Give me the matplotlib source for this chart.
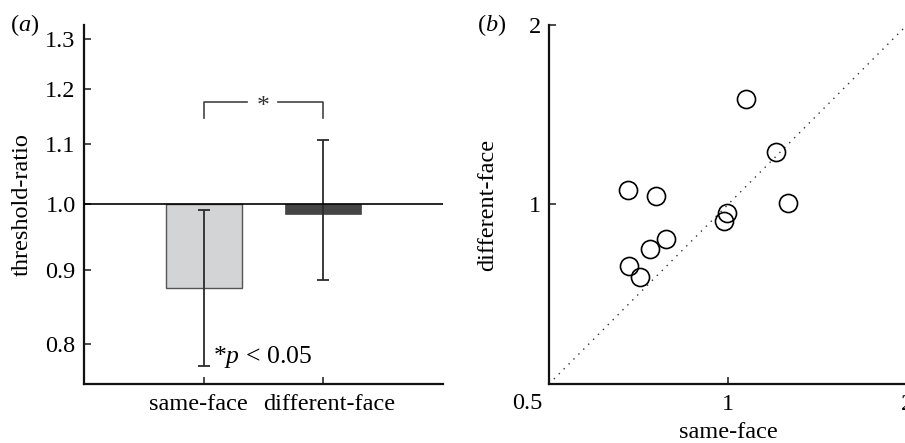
import matplotlib
matplotlib.use('Agg')
import matplotlib.pyplot as plt
from matplotlib.ticker import FixedLocator, NullLocator
from matplotlib.transforms import ScaledTranslation

plt.rcParams['font.family'] = ['Liberation Serif', 'DejaVu Serif']
plt.rcParams['mathtext.fontset'] = 'custom'
plt.rcParams['mathtext.rm'] = 'Liberation Serif'
plt.rcParams['mathtext.it'] = 'Liberation Serif:italic'

# panel (a): threshold ratios
conditions = ['same-face', 'different-face']
ratio_mean = [0.875, 0.984]
ratio_low = [0.773, 0.886]
ratio_high = [0.990, 1.107]
yticks_a = [0.8, 0.9, 1.0, 1.1, 1.2, 1.3]

# panel (b): individual observers
same_face = [1.073, 1.206, 0.678, 0.758, 1.263, 0.996, 0.983, 0.788, 0.738, 0.681, 0.712]
diff_face = [1.505, 1.225, 1.058, 1.035, 1.005, 0.968, 0.940, 0.875, 0.842, 0.790, 0.755]
ticks_b = [0.5, 1, 2]

fs = 17.5
line_col = '#2b2b2b'

fig = plt.figure(figsize=(9.05, 4.43), dpi=100)
ax = fig.add_axes([0.0928, 0.1332, 0.3967, 0.8104])
ax2 = fig.add_axes([0.6066, 0.1332, 0.3956, 0.8104])

# ---- (a)
xpos = [1, 2]
ax.bar(xpos[0], ratio_mean[0] - 1, bottom=1, width=0.635, color='#d3d4d6',
       edgecolor='#555555', linewidth=1.0, zorder=2)
ax.bar(xpos[1], ratio_mean[1] - 1, bottom=1, width=0.635, color='#444444',
       edgecolor='#444444', linewidth=0.5, zorder=2)
for x, m, lo, hi in zip(xpos, ratio_mean, ratio_low, ratio_high):
    ax.errorbar(x, m, yerr=[[m - lo], [hi - m]], fmt='none', ecolor=line_col,
                elinewidth=1.3, capsize=4, capthick=1.3, zorder=3)
ax.axhline(1.0, color='black', lw=1.2, zorder=4)

ax.set_yscale('log')
ax.set_ylim(0.7507, 1.329)
ax.set_xlim(0, 3.0)
ax.yaxis.set_major_locator(FixedLocator(yticks_a))
ax.yaxis.set_minor_locator(NullLocator())
ax.set_yticklabels(['%.1f' % v for v in yticks_a])
ax.set_xticks(xpos)
ax.set_xticklabels(conditions)
ax.tick_params(direction='in', length=5, width=1.2, labelsize=fs, color=line_col)
ax.tick_params(axis='x', pad=7)
ax.tick_params(axis='y', pad=6)
for lab, dx in zip(ax.get_xticklabels(), [-5, 6]):
    lab.set_transform(lab.get_transform() + ScaledTranslation(dx / 100, 0, fig.dpi_scale_trans))
ax.set_ylabel('threshold-ratio', fontsize=fs, labelpad=9)
for s in ['top', 'right']:
    ax.spines[s].set_visible(False)
for s in ['left', 'bottom']:
    ax.spines[s].set_linewidth(1.6)
    ax.spines[s].set_color('#111111')

# significance bracket
yb, yd = 1.176, 1.147
ax.plot([1, 1, 1.36], [yd, yb, yb], color='#444444', lw=1.2)
ax.plot([1.62, 2, 2], [yb, yb, yd], color='#444444', lw=1.2)
ax.text(1.5, 1.166, '*', ha='center', va='center', fontsize=fs + 1, color='#333333')
ax.text(1.075, 0.784, r'*$\mathit{p}$ < 0.05', ha='left', va='center', fontsize=fs + 1)

fig.text(0.011, 0.944, r'($\mathit{a}$)', fontsize=fs, ha='left', va='center')

# ---- (b)
ax2.plot([0.5, 2], [0.5, 2], color='#333333', lw=1.0, dashes=(1, 4), zorder=1)
ax2.plot(same_face, diff_face, 'o', ms=13, mfc='none', mec='black', mew=1.2, zorder=3)
ax2.set_xscale('log')
ax2.set_yscale('log')
ax2.set_xlim(0.5, 2)
ax2.set_ylim(0.5, 2)
for a in (ax2.xaxis, ax2.yaxis):
    a.set_major_locator(FixedLocator(ticks_b))
    a.set_minor_locator(NullLocator())
ax2.set_xticklabels(['', '1', '2'])
ax2.set_yticklabels(['', '1', '2'])
ax2.tick_params(direction='in', length=5, width=1.2, labelsize=fs, color=line_col)
ax2.tick_params(axis='x', pad=7)
ax2.tick_params(axis='y', pad=6)
ax2.annotate('0.5', xy=(0, 0), xycoords='axes fraction', xytext=(-5, -14),
             textcoords='offset points', ha='right', va='center', fontsize=fs)
ax2.set_xlabel('same-face', fontsize=fs, labelpad=5)
ax2.set_ylabel('different-face', fontsize=fs, labelpad=22)
for s in ['top', 'right']:
    ax2.spines[s].set_visible(False)
for s in ['left', 'bottom']:
    ax2.spines[s].set_linewidth(1.6)
    ax2.spines[s].set_color('#111111')

fig.text(0.527, 0.944, r'($\mathit{b}$)', fontsize=fs, ha='left', va='center')

fig.savefig('out.png', dpi=100)
